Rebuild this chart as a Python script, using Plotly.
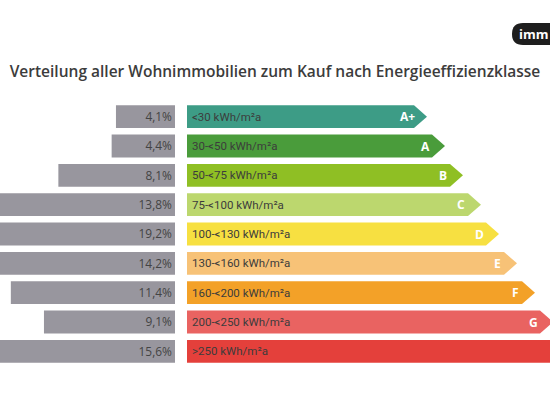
import plotly.graph_objects as go

# data
classes = ["A+", "A", "B", "C", "D", "E", "F", "G", ""]
ranges = [
    "<30 kWh/m²a",
    "30-<50 kWh/m²a",
    "50-<75 kWh/m²a",
    "75-<100 kWh/m²a",
    "100-<130 kWh/m²a",
    "130-<160 kWh/m²a",
    "160-<200 kWh/m²a",
    "200-<250 kWh/m²a",
    ">250 kWh/m²a",
]
shares = [4.1, 4.4, 8.1, 13.8, 19.2, 14.2, 11.4, 9.1, 15.6]
colors = [
    "#3d9c86", "#4a9c3b", "#8fbf24", "#bcd76e", "#f7e041",
    "#f7c277", "#f3a128", "#e96361", "#e4403b",
]

W, H = 550, 400
TOP, BOTTOM = 102, 366
SPLIT_L, SPLIT_R = 175, 187
PX_PER_PCT = 14.4
HALF = 0.39          # half bar height in row units
TIP = 13             # arrow point depth, px

rows = list(range(len(classes)))

fig = go.Figure()

# grey share bars, growing to the left
fig.add_trace(
    go.Bar(
        x=shares,
        y=rows,
        orientation="h",
        marker={"color": "#98969e", "line": {"width": 0}},
        width=2 * HALF,
        text=shares,
        texttemplate="%{x:.1f}%",
        textposition="inside",
        insidetextanchor="start",
        textfont={"family": "Open Sans", "size": 12, "color": "#444444", "weight": 500},
        hoverinfo="skip",
        xaxis="x",
        yaxis="y",
    )
)

# class arrows
for i, (cls, rng, col) in enumerate(zip(classes, ranges, colors)):
    tip = 240 + 18 * i if cls else 420
    body = tip - TIP
    fig.add_trace(
        go.Scatter(
            x=[0, body, tip, body, 0, 0],
            y=[i - HALF, i - HALF, i, i + HALF, i + HALF, i - HALF],
            fill="toself",
            fillcolor=col,
            mode="lines",
            line={"width": 0, "color": col},
            hoverinfo="skip",
            xaxis="x2",
            yaxis="y",
        )
    )
    fig.add_annotation(
        x=3, y=i, xref="x2", yref="y", text=rng, showarrow=False,
        xanchor="left", yanchor="middle",
        font={"family": "Roboto", "size": 11.5, "color": "#3c3c3c"},
    )
    if cls:
        fig.add_annotation(
            x=tip - 20, y=i, xref="x2", yref="y", text=f"<b>{cls}</b>",
            showarrow=False, xanchor="center", yanchor="middle",
            font={"family": "Open Sans", "size": 12, "color": "white"},
        )

# logo pill, top right
ph = BOTTOM - TOP


def py(v):
    return (BOTTOM - v) / ph


x0, x1, y0, y1, r = 512, 580, 23, 45, 11
path = (
    f"M {(x0 + r) / W},{py(y0)} L {x1 / W},{py(y0)} L {x1 / W},{py(y1)} "
    f"L {(x0 + r) / W},{py(y1)} Q {x0 / W},{py(y1)} {x0 / W},{py((y0 + y1) / 2)} "
    f"Q {x0 / W},{py(y0)} {(x0 + r) / W},{py(y0)} Z"
)
fig.add_shape(type="path", path=path, xref="paper", yref="paper",
              fillcolor="#1e1e1e", line={"width": 0})
fig.add_annotation(
    x=517 / W, y=py(34), xref="paper", yref="paper", text="<b>imm</b>",
    showarrow=False, xanchor="left", yanchor="middle",
    font={"family": "Open Sans", "size": 13, "color": "white"},
)

fig.update_layout(
    width=W,
    height=H,
    margin={"l": 0, "r": 0, "t": TOP, "b": H - BOTTOM},
    paper_bgcolor="white",
    plot_bgcolor="white",
    showlegend=False,
    separators=",.",
    title={
        "text": "Verteilung aller Wohnimmobilien zum Kauf nach Energieeffizienzklasse",
        "x": 0.5,
        "xanchor": "center",
        "y": 1 - 72 / H,
        "yanchor": "middle",
        "font": {"family": "Open Sans", "size": 15.5, "color": "#3c3c3c", "weight": 600},
    },
    xaxis={
        "domain": [0, SPLIT_L / W],
        "range": [SPLIT_L / PX_PER_PCT, 0],
        "visible": False,
        "fixedrange": True,
    },
    xaxis2={
        "domain": [SPLIT_R / W, 1],
        "range": [0, W - SPLIT_R],
        "visible": False,
        "fixedrange": True,
    },
    yaxis={
        "range": [len(classes) - 0.5, -0.5],
        "visible": False,
        "fixedrange": True,
    },
)

fig.write_html(
    "out.html",
    config={"displayModeBar": False},
    post_script="document.body.style.margin='0';document.body.style.overflow='hidden';",
)
